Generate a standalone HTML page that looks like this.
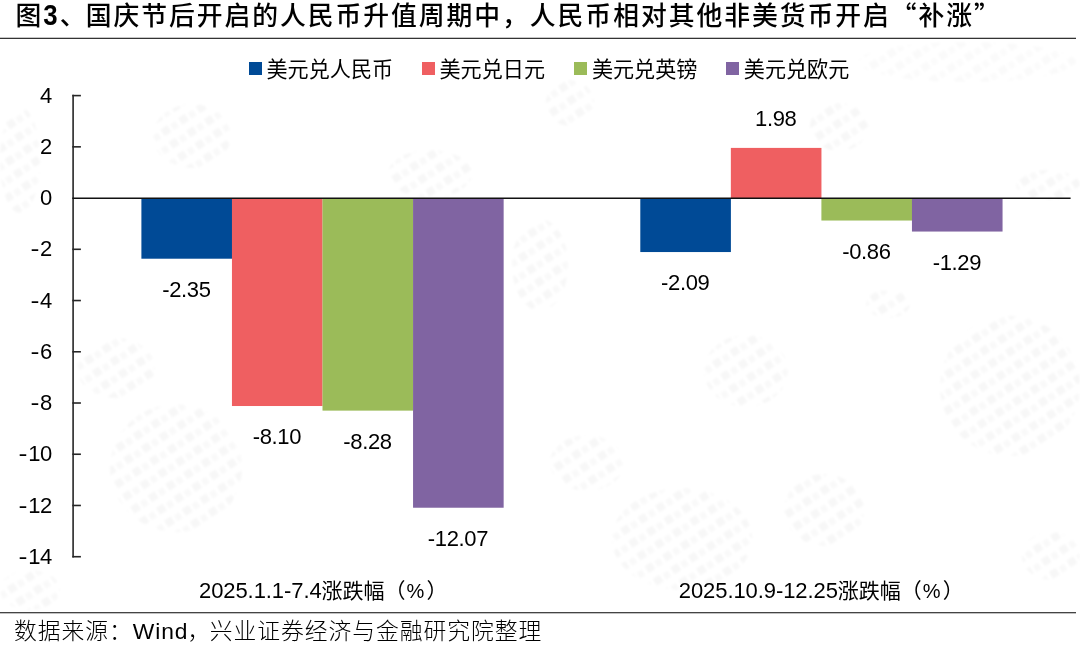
<!DOCTYPE html>
<html lang="zh-CN">
<head>
<meta charset="utf-8">
<title>图3</title>
<style>
html,body{margin:0;padding:0;background:#fff;}
body{width:1080px;height:646px;position:relative;overflow:hidden;font-family:"Liberation Sans","Noto Sans CJK SC",sans-serif;color:#000;}
.abs{position:absolute;white-space:nowrap;}
#title{left:15.6px;top:-4px;font-size:25.8px;line-height:36px;font-weight:500;letter-spacing:1.96px;font-family:"Liberation Sans","Noto Sans CJK SC",sans-serif;}
#title b{font-weight:700;display:inline-block;transform:scaleY(1.12);transform-origin:50% 78%;}
#title .q{font-family:"Noto Sans CJK SC",sans-serif;}
.hl{position:absolute;left:0;width:1076px;height:2px;}
.lg{position:absolute;top:56px;height:26px;line-height:26px;font-size:21.1px;white-space:nowrap;}
.lg i{position:absolute;left:0;top:6px;width:12.7px;height:12.7px;display:block;}
.lg span{position:absolute;left:17.5px;top:0.9px;}
.yl{position:absolute;left:0;width:52px;text-align:right;font-size:22px;line-height:22px;height:22px;letter-spacing:-0.3px;}
.yl u{text-decoration:none;display:inline-block;transform:scaleX(1.22);transform-origin:100% 50%;margin-right:1.2px;}
.dl{position:absolute;width:120px;margin-left:-60px;text-align:center;font-size:22px;line-height:22px;height:22px;letter-spacing:-0.35px;}
.cl{position:absolute;white-space:nowrap;font-size:21px;line-height:26px;height:26px;}
.cl b{font-weight:400;font-size:22px;letter-spacing:-0.08px;}
.cl i{font-style:normal;font-size:20px;letter-spacing:0;margin:0 2.2px 0 1px;}
#src{left:14px;top:613.5px;font-size:22.8px;line-height:34px;font-weight:300;letter-spacing:0.95px;}
</style>
</head>
<body>
<svg class="abs" style="left:0;top:0;filter:blur(1.3px)" width="1080" height="646" viewBox="0 0 1080 646" aria-hidden="true">
<defs><pattern id="wm" width="21" height="15" patternUnits="userSpaceOnUse" patternTransform="rotate(-33)"><rect x="1" y="1" width="8" height="8" fill="#000" fill-opacity="0.032"/><rect x="12" y="2" width="6" height="7" fill="#000" fill-opacity="0.024"/></pattern></defs>
<ellipse cx="20" cy="160" rx="20" ry="53" fill="url(#wm)"/>
<ellipse cx="192" cy="136" rx="39" ry="32" fill="url(#wm)"/>
<ellipse cx="430" cy="174" rx="42" ry="24" fill="url(#wm)"/>
<ellipse cx="570" cy="103" rx="24" ry="23" fill="url(#wm)"/>
<ellipse cx="839" cy="127" rx="29" ry="24" fill="url(#wm)"/>
<ellipse cx="967" cy="62" rx="109" ry="20" fill="url(#wm)" opacity="0.6"/>
<ellipse cx="1048" cy="185" rx="32" ry="15" fill="url(#wm)"/>
<ellipse cx="116" cy="368" rx="39" ry="30" fill="url(#wm)"/>
<ellipse cx="176" cy="468" rx="66" ry="64" fill="url(#wm)"/>
<ellipse cx="30" cy="590" rx="30" ry="20" fill="url(#wm)"/>
<ellipse cx="540" cy="265" rx="28" ry="46" fill="url(#wm)"/>
<ellipse cx="587" cy="463" rx="37" ry="28" fill="url(#wm)"/>
<ellipse cx="682" cy="539" rx="70" ry="51" fill="url(#wm)"/>
<ellipse cx="746" cy="371" rx="42" ry="36" fill="url(#wm)"/>
<ellipse cx="824" cy="510" rx="40" ry="36" fill="url(#wm)"/>
<ellipse cx="1010" cy="386" rx="70" ry="70" fill="url(#wm)"/>
<ellipse cx="1051" cy="556" rx="29" ry="24" fill="url(#wm)"/>
<ellipse cx="888" cy="304" rx="22" ry="14" fill="url(#wm)"/>
</svg>
<div id="title" class="abs">图<b>3</b><span style="margin-right:-1.7px">、</span>国庆节后开启的人民币升值周期中，人民币相对其他非美货币开启<span class="q">“</span>补涨<span class="q">”</span></div>
<div class="hl" style="top:37px;background:linear-gradient(#c6c6c6 0 50%,#333 50% 100%)"></div>

<div class="lg" style="left:249px"><i style="background:#004a96"></i><span>美元兑人民币</span></div>
<div class="lg" style="left:422px"><i style="background:#ef5f61"></i><span>美元兑日元</span></div>
<div class="lg" style="left:574.4px"><i style="background:#9bbb59"></i><span>美元兑英镑</span></div>
<div class="lg" style="left:726.3px"><i style="background:#8064a2"></i><span>美元兑欧元</span></div>

<!-- y axis -->
<svg class="abs" style="left:0;top:0" width="1080" height="646" viewBox="0 0 1080 646">
<rect x="141.40" y="198.30" width="90.60" height="60.41" fill="#004a96"/>
<rect x="231.95" y="198.30" width="90.60" height="207.72" fill="#ef5f61"/>
<rect x="322.50" y="198.30" width="90.60" height="212.33" fill="#9bbb59"/>
<rect x="413.05" y="198.30" width="90.60" height="309.43" fill="#8064a2"/>
<rect x="640.30" y="198.30" width="90.60" height="53.75" fill="#004a96"/>
<rect x="730.85" y="147.90" width="90.60" height="50.40" fill="#ef5f61"/>
<rect x="821.40" y="198.30" width="90.60" height="22.23" fill="#9bbb59"/>
<rect x="911.95" y="198.30" width="90.60" height="33.25" fill="#8064a2"/>
<line x1="73.1" y1="94.8" x2="73.1" y2="557.5" stroke="#262626" stroke-width="1.6"/>
<line x1="72.3" y1="95.60" x2="80.9" y2="95.60" stroke="#262626" stroke-width="1.6"/>
<line x1="72.3" y1="146.84" x2="80.9" y2="146.84" stroke="#262626" stroke-width="1.6"/>
<line x1="72.3" y1="249.30" x2="80.9" y2="249.30" stroke="#262626" stroke-width="1.6"/>
<line x1="72.3" y1="300.54" x2="80.9" y2="300.54" stroke="#262626" stroke-width="1.6"/>
<line x1="72.3" y1="351.77" x2="80.9" y2="351.77" stroke="#262626" stroke-width="1.6"/>
<line x1="72.3" y1="403.01" x2="80.9" y2="403.01" stroke="#262626" stroke-width="1.6"/>
<line x1="72.3" y1="454.24" x2="80.9" y2="454.24" stroke="#262626" stroke-width="1.6"/>
<line x1="72.3" y1="505.47" x2="80.9" y2="505.47" stroke="#262626" stroke-width="1.6"/>
<line x1="72.3" y1="556.71" x2="80.9" y2="556.71" stroke="#262626" stroke-width="1.6"/>
<line x1="72.3" y1="198.30" x2="1070.6" y2="198.30" stroke="#111" stroke-width="1.4"/>
</svg>
<div class="yl" style="top:84.6px">4</div>
<div class="yl" style="top:135.8px">2</div>
<div class="yl" style="top:187.1px">0</div>
<div class="yl" style="top:238.3px"><u>-</u>2</div>
<div class="yl" style="top:289.5px"><u>-</u>4</div>
<div class="yl" style="top:340.8px"><u>-</u>6</div>
<div class="yl" style="top:392.0px"><u>-</u>8</div>
<div class="yl" style="top:443.2px"><u>-</u>10</div>
<div class="yl" style="top:494.5px"><u>-</u>12</div>
<div class="yl" style="top:545.7px"><u>-</u>14</div>

<!-- data labels -->
<div class="dl" style="left:186.4px;top:278.7px">-2.35</div>
<div class="dl" style="left:276.9px;top:426.1px">-8.10</div>
<div class="dl" style="left:367.5px;top:430.7px">-8.28</div>
<div class="dl" style="left:458.0px;top:527.6px">-12.07</div>
<div class="dl" style="left:685.3px;top:272.3px">-2.09</div>
<div class="dl" style="left:775.8px;top:107.5px">1.98</div>
<div class="dl" style="left:866.4px;top:241.0px">-0.86</div>
<div class="dl" style="left:956.9px;top:252.0px">-1.29</div>

<div class="cl" style="left:199px;top:578px"><b>2025.1.1-7.4</b>涨跌幅（<i>%</i>）</div>
<div class="cl" style="left:678.8px;top:578px"><b>2025.10.9-12.25</b>涨跌幅（<i>%</i>）</div>

<div class="hl" style="top:612px;background:linear-gradient(#444 0 50%,#c0c0c0 50% 100%)"></div>
<div id="src" class="abs">数据来源：<span style="margin-right:-1px;font-weight:400">Wind</span><span style="margin-right:-1.5px">，</span>兴业证券经济与金融研究院整理</div>
</body>
</html>
